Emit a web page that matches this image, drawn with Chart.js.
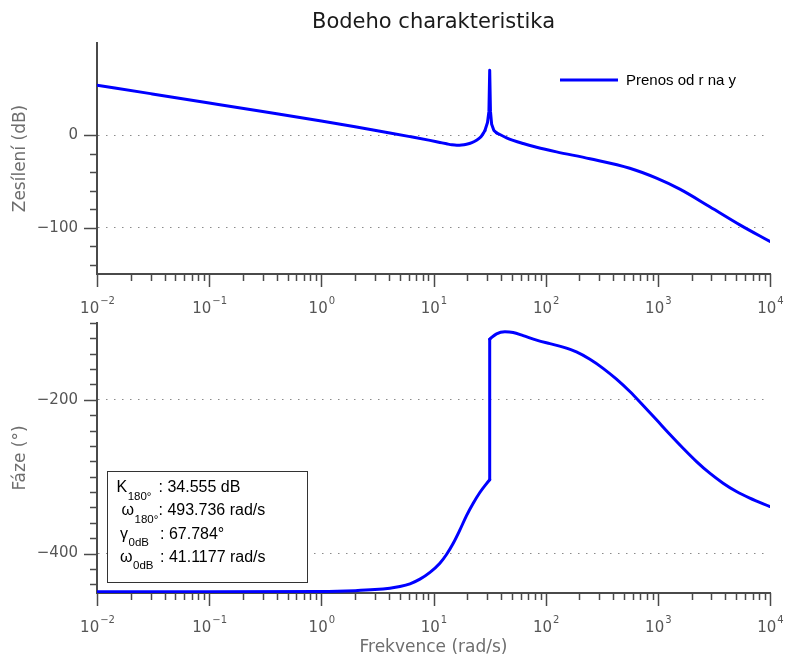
<!DOCTYPE html>
<html>
<head>
<meta charset="utf-8">
<title>Bodeho charakteristika</title>
<script src="https://cdn.jsdelivr.net/npm/chart.js@4.4.1/dist/chart.umd.min.js"></script>
<style>
  html, body { margin: 0; padding: 0; background: #fff; }
  #wrap { position: relative; width: 785px; height: 659px; }
  canvas { position: absolute; left: 0; }
  #magCanvas { top: 0; }
  #phaseCanvas { top: 320px; }
</style>
</head>
<body>
<div id="wrap">
  <canvas id="magCanvas" width="785" height="320"></canvas>
  <canvas id="phaseCanvas" width="785" height="339"></canvas>
</div>
<script>
// --- DATA ---
// frequency decades shown on the x axis (10^d rad/s)
const decades = [-2, -1, 0, 1, 2, 3, 4];

// magnitude response |G(jw)| in dB
const magFreq = [0.01, 0.03, 0.1, 0.3, 1, 2, 4.08, 6.17, 9.3, 11.4, 13.1, 14.6, 16.1, 17.8, 19.7, 22, 24.2, 26.5,
                 28.7, 30.3, 31.2, 31.7, 32.2, 33.0, 34.5, 36.5,
                 44.8, 63, 83, 125, 248, 562, 973, 1571, 2904, 5383, 10000];
const magDb = [54.4, 45.2, 35.1, 25.85, 15.6, 9.4, 2.7, -1.3, -5.4, -7.6, -9.1, -10.2, -10.7, -10.5, -9.6, -7.8, -5.2, -1.5,
               5.0, 14, 26, 70.6, 26, 12, 5.5, 2.8,
               -2.6, -8.8, -12.8, -17.8, -25.3, -35.6, -46.3, -58.2, -77.2, -96.8, -114.8];
// narrow resonance band, drawn with straight segments
const magSpike = [28.7, 36.5];

// phase response in degrees
const phaseFreq = [0.01, 0.1, 1, 2, 3, 4.08, 5.02, 6.17, 7.57, 9.3, 11.4, 13.1, 15.0, 17.2, 19.7,
                   22.6, 25.9, 29.7, 31.7,
                   31.7, 36.5, 43.3, 51.3, 63.0, 83.0, 109, 143, 188, 248, 325, 428, 563, 740,
                   973, 1277, 1679, 2213, 2904, 3819, 5023, 6607, 10000];
const phaseDeg = [-449.7, -449.7, -449.4, -448.3, -446.9, -445.0, -442.9, -439.4, -433.3, -424.5, -412.6, -400.9, -386.6, -369.2, -350.6,
                  -334.5, -320.5, -309.0, -304.0,
                  -121.0, -114.1, -111.5, -112.4, -116.4, -122.2, -126.9, -131.4, -137.6, -147.2, -159.0, -173.1, -189.2, -207.4,
                  -226.0, -244.7, -262.9, -280.3, -295.4, -308.4, -319.3, -327.9, -338.8];
// the phase wraps at this index (vertical step)
const phaseJump = 19;

// y tick marks, and the ones carrying a label + dotted grid line
const magTicks = [-140, -120, -100, -80, -60, -40, -20, 0];
const magLabeled = [0, -100];
const phaseTicks = [-440, -420, -400, -380, -360, -340, -320, -300, -280, -260, -240, -220, -200, -180, -160, -140, -120, -100];
const phaseLabeled = [-200, -400];

// stability margins box
const marginRows = [
  ['K', '180°', ': 34.555 dB'],
  ['\u03c9', '180°', ': 493.736 rad/s'],
  ['\u03b3', '0dB', ': 67.784°'],
  ['\u03c9', '0dB', ': 41.1177 rad/s']
];

const seriesLabel = 'Prenos od r na y';

// --- STYLE ---
const FONT = "'DejaVu Sans', sans-serif";
const ARIAL = "'Liberation Sans', Arial, sans-serif";
const AXIS = '#4a4a4a';
const TICK_TEXT = '#555555';
const TITLE_TEXT = '#6e6e6e';
const BLUE = '#0000ff';

const freqTicks = [];
decades.forEach((d, i) => {
  if (i === decades.length - 1) { freqTicks.push(Math.pow(10, d)); return; }
  for (let m = 1; m <= 9; m++) freqTicks.push(m * Math.pow(10, d));
});

const minus = v => String(v).replace('-', '\u2212');

// points of xs/ys between index a and b (inclusive)
const slicePoints = (xs, ys, a, b) => xs.slice(a, b + 1).map((x, i) => ({ x, y: ys[a + i] }));

// axis ticks, decade labels, legend and margin box
const bodeDecor = {
  id: 'bodeDecor',
  afterDatasetsDraw(chart, args, opts) {
    const { ctx, chartArea: area } = chart;
    const xs = chart.scales.x, ys = chart.scales.y;
    ctx.save();
    ctx.strokeStyle = AXIS;
    ctx.lineWidth = 1.5;

    // y ticks on the left, pointing outwards
    opts.yTicks.forEach(v => {
      const y = Math.round(ys.getPixelForValue(v)) + 0.5;
      const len = opts.yMajor.includes(v) ? 13 : 7;
      ctx.beginPath();
      ctx.moveTo(area.left - len, y);
      ctx.lineTo(area.left, y);
      ctx.stroke();
    });

    // x ticks below the axis, decades longer
    freqTicks.forEach(f => {
      const x = Math.round(xs.getPixelForValue(f)) + 0.5;
      const major = Math.abs(Math.log10(f) - Math.round(Math.log10(f))) < 1e-9;
      ctx.beginPath();
      ctx.moveTo(x, area.bottom);
      ctx.lineTo(x, area.bottom + (major ? 13 : 7));
      ctx.stroke();
    });

    // decade labels 10^d
    ctx.fillStyle = TICK_TEXT;
    ctx.textBaseline = 'alphabetic';
    ctx.textAlign = 'left';
    decades.forEach(d => {
      const x = xs.getPixelForValue(Math.pow(10, d));
      const exp = minus(d);
      ctx.font = '15px ' + FONT;
      const wBase = ctx.measureText('10').width;
      ctx.font = '10px ' + FONT;
      const wExp = ctx.measureText(exp).width;
      const x0 = x - (wBase + wExp) / 2;
      ctx.font = '15px ' + FONT;
      ctx.fillText('10', x0, area.bottom + 39);
      ctx.font = '10px ' + FONT;
      ctx.fillText(exp, x0 + wBase + 1, area.bottom + 30);
    });

    if (opts.legend) {
      const ds = chart.data.datasets[0];
      const ly = area.top + 37;
      ctx.strokeStyle = ds.borderColor;
      ctx.lineWidth = 3;
      ctx.beginPath();
      ctx.moveTo(area.right - 210, ly);
      ctx.lineTo(area.right - 152, ly);
      ctx.stroke();
      ctx.fillStyle = '#000';
      ctx.font = '15px ' + ARIAL;
      ctx.textBaseline = 'middle';
      ctx.fillText(ds.label, area.right - 144, ly + 1);
    }

    if (opts.margins) {
      const bx = area.left + 10, by = area.top + 148;
      ctx.fillStyle = '#fff';
      ctx.fillRect(bx, by, 200, 111);
      ctx.strokeStyle = '#333';
      ctx.lineWidth = 1;
      ctx.strokeRect(bx + 0.5, by + 0.5, 200, 111);
      ctx.fillStyle = '#000';
      ctx.textBaseline = 'alphabetic';
      const symX = [9.5, 14.5, 13, 13];
      const restX = [51.5, 51.5, 53, 53];
      marginRows.forEach((row, i) => {
        const base = by + 21 + i * 23.3;
        ctx.font = '16px ' + ARIAL;
        ctx.fillText(row[0], bx + symX[i], base);
        const w = ctx.measureText(row[0]).width;
        ctx.font = '11.5px ' + ARIAL;
        ctx.fillText(row[1], bx + symX[i] + w + 0.5, base + 7.5);
        ctx.font = '16px ' + ARIAL;
        ctx.fillText(row[2], bx + restX[i], base);
      });
    }
    ctx.restore();
  }
};

function freqAxis(height, withTitle) {
  return {
    type: 'logarithmic',
    min: 0.01,
    max: 10000,
    afterBuildTicks: s => { s.ticks = freqTicks.map(v => ({ value: v })); },
    ticks: { display: false },
    grid: { display: false },
    border: { display: true, color: AXIS, width: 2 },
    title: {
      display: withTitle,
      text: 'Frekvence (rad/s)',
      color: TITLE_TEXT,
      font: { family: FONT, size: 17 },
      padding: { top: 0, bottom: 1 }
    },
    afterFit: s => { s.height = height; s.paddingLeft = 0; s.paddingRight = 0; }
  };
}

function levelAxis(text, min, max, tickVals, labeled) {
  return {
    type: 'linear',
    min, max,
    afterBuildTicks: s => { s.ticks = tickVals.map(v => ({ value: v })); },
    ticks: {
      autoSkip: false,
      color: TICK_TEXT,
      font: { family: FONT, size: 15 },
      padding: 19,
      callback: v => labeled.includes(v) ? minus(v) : ''
    },
    grid: {
      drawTicks: false,
      lineWidth: 1,
      color: c => (c.tick && labeled.includes(c.tick.value)) ? '#8a8a8a' : 'rgba(0,0,0,0)'
    },
    border: { display: true, color: AXIS, width: 2, dash: [1.5, 6.5] },
    title: {
      display: true,
      text,
      color: TITLE_TEXT,
      font: { family: FONT, size: 17 },
      padding: { top: 10, bottom: 0 }
    },
    afterFit: s => { s.width = 97; s.paddingTop = 0; s.paddingBottom = 0; }
  };
}

// one piece of the response curve; smooth pieces use a monotone spline
function piece(points, smooth) {
  return {
    label: seriesLabel,
    data: points,
    borderColor: BLUE,
    borderWidth: 3,
    pointRadius: 0,
    cubicInterpolationMode: smooth ? 'monotone' : 'default',
    tension: 0,
    borderCapStyle: 'round',
    borderJoinStyle: 'round',
    fill: false
  };
}

const common = {
  responsive: false,
  animation: false,
  events: [],
  parsing: false
};

// --- MAGNITUDE ---
const spikeA = magFreq.indexOf(magSpike[0]);
const spikeB = magFreq.indexOf(magSpike[1]);
const last = magFreq.length - 1;

new Chart(document.getElementById('magCanvas'), {
  type: 'line',
  data: {
    datasets: [
      piece(slicePoints(magFreq, magDb, 0, spikeA), true),
      piece(slicePoints(magFreq, magDb, spikeA, spikeB), false),
      piece(slicePoints(magFreq, magDb, spikeB, last), true)
    ]
  },
  options: {
    ...common,
    layout: { padding: { left: 0, right: 15, top: 0, bottom: 0 } },
    plugins: {
      legend: { display: false },
      tooltip: { enabled: false },
      title: {
        display: true,
        text: 'Bodeho charakteristika',
        fullSize: false,
        color: '#1a1a1a',
        font: { family: FONT, size: 21, weight: 'normal' },
        padding: { top: 10, bottom: 7.8 }
      },
      bodeDecor: { yTicks: magTicks, yMajor: magLabeled, legend: true, margins: false }
    },
    scales: {
      x: freqAxis(46, false),
      y: levelAxis('Zes\u00edlen\u00ed (dB)', -150, 100, magTicks, magLabeled)
    }
  },
  plugins: [bodeDecor]
});

// --- PHASE ---
const pLast = phaseFreq.length - 1;

new Chart(document.getElementById('phaseCanvas'), {
  type: 'line',
  data: {
    datasets: [
      piece(slicePoints(phaseFreq, phaseDeg, 0, phaseJump - 1), true),
      piece(slicePoints(phaseFreq, phaseDeg, phaseJump - 1, phaseJump), false),
      piece(slicePoints(phaseFreq, phaseDeg, phaseJump, pLast), true)
    ]
  },
  options: {
    ...common,
    layout: { padding: { left: 0, right: 15, top: 3, bottom: 0 } },
    plugins: {
      legend: { display: false },
      tooltip: { enabled: false },
      title: { display: false },
      bodeDecor: { yTicks: phaseTicks, yMajor: phaseLabeled, legend: false, margins: true }
    },
    scales: {
      x: freqAxis(66, true),
      y: levelAxis('F\u00e1ze (\u00b0)', -451.3, -100, phaseTicks, phaseLabeled)
    }
  },
  plugins: [bodeDecor]
});
</script>
</body>
</html>
